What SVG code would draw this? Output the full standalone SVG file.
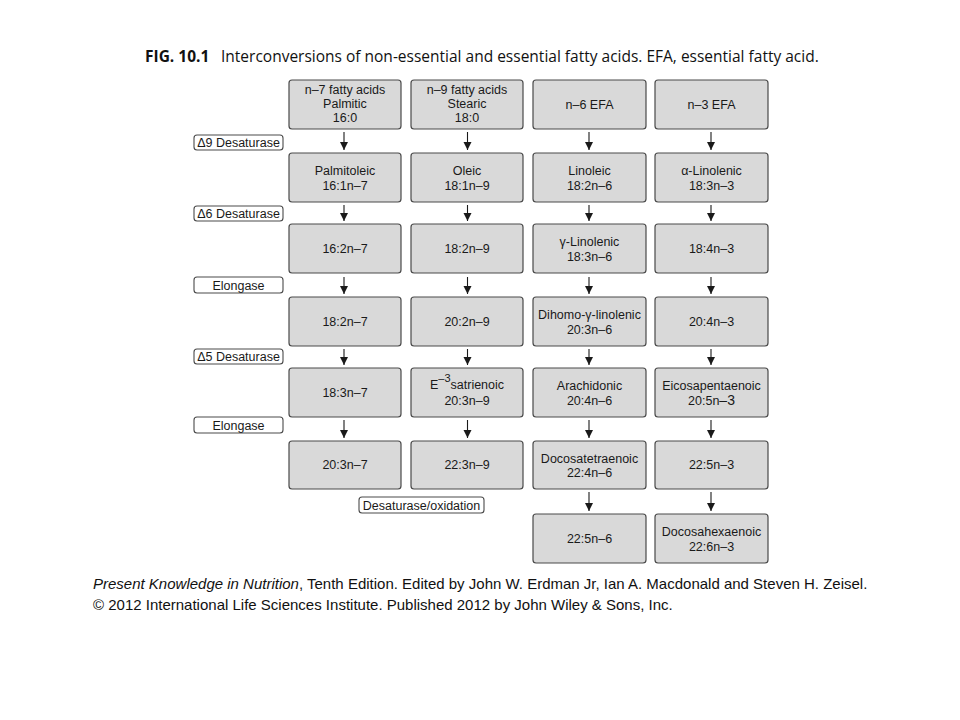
<svg xmlns="http://www.w3.org/2000/svg" width="960" height="720" viewBox="0 0 960 720">
<style>
.box{fill:#d9d9d9;stroke:#4a4a4a;stroke-width:1.2}
.lab{fill:#fff;stroke:#4a4a4a;stroke-width:1.1}
.t{font-family:"Liberation Sans",Arial,sans-serif;font-size:12.5px;fill:#1a1a1a;text-anchor:middle}
.arr{stroke:#1a1a1a;stroke-width:1.1;fill:none;marker-end:url(#ah)}
.cap{font-family:"Liberation Sans",Arial,sans-serif;font-size:15px;fill:#111}
.ttl{font-family:"Open Sans","Liberation Sans",sans-serif;font-size:15.5px;fill:#111}
</style>
<defs>
<marker id="ah" viewBox="0 0 8 10" refX="8" refY="5" markerWidth="8" markerHeight="10" markerUnits="userSpaceOnUse" orient="auto">
<path d="M0,1 L8,5 L0,9 Z" fill="#1a1a1a"/>
</marker>
</defs>
<rect width="960" height="720" fill="#fff"/>
<text class="ttl" x="145" y="62"><tspan font-weight="bold">FIG. 10.1</tspan><tspan x="221">Interconversions of non-essential and essential fatty acids. EFA, essential fatty acid.</tspan></text>

<g id="labels">
<g id="lab-d9"><rect class="lab" x="194" y="135" width="89" height="15" rx="3"/><text class="t" x="238.5" y="147">Δ9 Desaturase</text></g>
<g id="lab-d6"><rect class="lab" x="194" y="206" width="89" height="15" rx="3"/><text class="t" x="238.5" y="218">Δ6 Desaturase</text></g>
<g id="lab-el1"><rect class="lab" x="194" y="277" width="89" height="16" rx="3"/><text class="t" x="238.5" y="289.5">Elongase</text></g>
<g id="lab-d5"><rect class="lab" x="194" y="349" width="89" height="15" rx="3"/><text class="t" x="238.5" y="361">Δ5 Desaturase</text></g>
<g id="lab-el2"><rect class="lab" x="194" y="417" width="89" height="16" rx="3"/><text class="t" x="238.5" y="429.5">Elongase</text></g>
<g id="lab-dox"><rect class="lab" x="359" y="497" width="125" height="16" rx="3"/><text class="t" x="421.5" y="509.5">Desaturase/oxidation</text></g>
</g>

<g id="nodes">
<g id="c1r1"><rect class="box" x="289" y="80" width="112" height="49" rx="3"/><text class="t" x="345" y="94">n–7 fatty acids</text><text class="t" x="345" y="108">Palmitic</text><text class="t" x="345" y="122">16:0</text></g>
<g id="c2r1"><rect class="box" x="411" y="80" width="112" height="49" rx="3"/><text class="t" x="467" y="94">n–9 fatty acids</text><text class="t" x="467" y="108">Stearic</text><text class="t" x="467" y="122">18:0</text></g>
<g id="c3r1"><rect class="box" x="533" y="80" width="113" height="49" rx="3"/><text class="t" x="589.5" y="108.5">n–6 EFA</text></g>
<g id="c4r1"><rect class="box" x="655" y="80" width="113" height="49" rx="3"/><text class="t" x="711.5" y="108.5">n–3 EFA</text></g>

<g id="c1r2"><rect class="box" x="289" y="153" width="112" height="49" rx="3"/><text class="t" x="345" y="175">Palmitoleic</text><text class="t" x="345" y="189.5">16:1n–7</text></g>
<g id="c2r2"><rect class="box" x="411" y="153" width="112" height="49" rx="3"/><text class="t" x="467" y="175">Oleic</text><text class="t" x="467" y="189.5">18:1n–9</text></g>
<g id="c3r2"><rect class="box" x="533" y="153" width="113" height="49" rx="3"/><text class="t" x="589.5" y="175">Linoleic</text><text class="t" x="589.5" y="189.5">18:2n–6</text></g>
<g id="c4r2"><rect class="box" x="655" y="153" width="113" height="49" rx="3"/><text class="t" x="711.5" y="175">α-Linolenic</text><text class="t" x="711.5" y="189.5">18:3n–3</text></g>

<g id="c1r3"><rect class="box" x="289" y="224" width="112" height="49" rx="3"/><text class="t" x="345" y="252.5">16:2n–7</text></g>
<g id="c2r3"><rect class="box" x="411" y="224" width="112" height="49" rx="3"/><text class="t" x="467" y="252.5">18:2n–9</text></g>
<g id="c3r3"><rect class="box" x="533" y="224" width="113" height="49" rx="3"/><text class="t" x="589.5" y="246">γ-Linolenic</text><text class="t" x="589.5" y="260.5">18:3n–6</text></g>
<g id="c4r3"><rect class="box" x="655" y="224" width="113" height="49" rx="3"/><text class="t" x="711.5" y="252.5">18:4n–3</text></g>

<g id="c1r4"><rect class="box" x="289" y="297" width="112" height="49" rx="3"/><text class="t" x="345" y="325.5">18:2n–7</text></g>
<g id="c2r4"><rect class="box" x="411" y="297" width="112" height="49" rx="3"/><text class="t" x="467" y="325.5">20:2n–9</text></g>
<g id="c3r4"><rect class="box" x="533" y="297" width="113" height="49" rx="3"/><text class="t" x="589.5" y="319">Dihomo-γ-linolenic</text><text class="t" x="589.5" y="333.5">20:3n–6</text></g>
<g id="c4r4"><rect class="box" x="655" y="297" width="113" height="49" rx="3"/><text class="t" x="711.5" y="325.5">20:4n–3</text></g>

<g id="c1r5"><rect class="box" x="289" y="368" width="112" height="49" rx="3"/><text class="t" x="345" y="396.5">18:3n–7</text></g>
<g id="c2r5"><rect class="box" x="411" y="368" width="112" height="49" rx="3"/><text class="t" x="467" y="389">E<tspan font-size="11" dy="-7">–3</tspan><tspan dy="7">satrienoic</tspan></text><text class="t" x="467" y="404.5">20:3n–9</text></g>
<g id="c3r5"><rect class="box" x="533" y="368" width="113" height="49" rx="3"/><text class="t" x="589.5" y="390">Arachidonic</text><text class="t" x="589.5" y="404.5">20:4n–6</text></g>
<g id="c4r5"><rect class="box" x="655" y="368" width="113" height="49" rx="3"/><text class="t" x="711.5" y="390">Eicosapentaenoic</text><text class="t" x="711.5" y="404.5">20:5n<tspan font-size="14">–3</tspan></text></g>

<g id="c1r6"><rect class="box" x="289" y="441" width="112" height="48" rx="3"/><text class="t" x="345" y="469">20:3n–7</text></g>
<g id="c2r6"><rect class="box" x="411" y="441" width="112" height="48" rx="3"/><text class="t" x="467" y="469">22:3n–9</text></g>
<g id="c3r6"><rect class="box" x="533" y="441" width="113" height="48" rx="3"/><text class="t" x="589.5" y="462.5">Docosatetraenoic</text><text class="t" x="589.5" y="477">22:4n–6</text></g>
<g id="c4r6"><rect class="box" x="655" y="441" width="113" height="48" rx="3"/><text class="t" x="711.5" y="469">22:5n–3</text></g>

<g id="c3r7"><rect class="box" x="533" y="514" width="113" height="49" rx="3"/><text class="t" x="589.5" y="542.5">22:5n–6</text></g>
<g id="c4r7"><rect class="box" x="655" y="514" width="113" height="49" rx="3"/><text class="t" x="711.5" y="536">Docosahexaenoic</text><text class="t" x="711.5" y="550.5">22:6n–3</text></g>
</g>

<g id="connectors">
<path class="arr" d="M344,132V150"/><path class="arr" d="M467.5,132V150"/><path class="arr" d="M589,132V150"/><path class="arr" d="M711,132V150"/>
<path class="arr" d="M344,205V221"/><path class="arr" d="M467.5,205V221"/><path class="arr" d="M589,205V221"/><path class="arr" d="M711,205V221"/>
<path class="arr" d="M344,277V294"/><path class="arr" d="M467.5,277V294"/><path class="arr" d="M589,277V294"/><path class="arr" d="M711,277V294"/>
<path class="arr" d="M344,349V365"/><path class="arr" d="M467.5,349V365"/><path class="arr" d="M589,349V365"/><path class="arr" d="M711,349V365"/>
<path class="arr" d="M344,420V438"/><path class="arr" d="M467.5,420V438"/><path class="arr" d="M589,420V438"/><path class="arr" d="M711,420V438"/>
<path class="arr" d="M589,492V511"/><path class="arr" d="M711,492V511"/>
</g>

<text class="cap" x="93" y="589"><tspan font-style="italic">Present Knowledge in Nutrition</tspan>, Tenth Edition. Edited by John W. Erdman Jr, Ian A. Macdonald and Steven H. Zeisel.</text>
<text class="cap" x="93" y="610">© 2012 International Life Sciences Institute. Published 2012 by John Wiley &amp; Sons, Inc.</text>
</svg>
